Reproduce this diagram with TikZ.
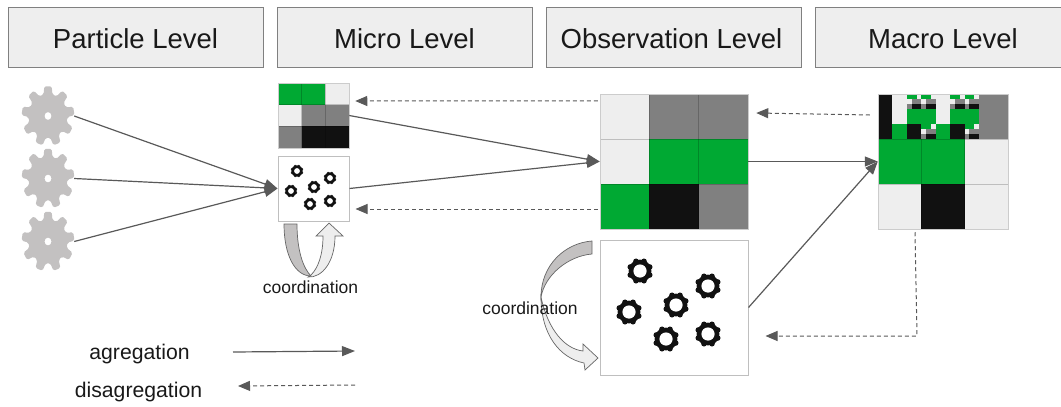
\documentclass[tikz,border=0pt]{standalone}
\usepackage{fontspec}
\setmainfont{Liberation Sans}
\usetikzlibrary{arrows.meta}

\definecolor{lvlgreen}{HTML}{00A933}
\definecolor{lvlblack}{HTML}{111111}
\definecolor{lvlgray}{HTML}{808080}
\definecolor{lvllight}{HTML}{EEEEEE}
\definecolor{lvlline}{HTML}{595959}
\definecolor{geargray}{HTML}{C3C1C1}

\tikzset{
  header/.style={draw=black!50,fill=lvllight,minimum width=255pt,minimum height=60pt,inner sep=0pt,text=black!90,text height=23pt,text depth=0pt,font=\fontsize{27.5}{32}\selectfont},
  label/.style={text=black!90,inner sep=0pt,font=\fontsize{21.2}{25}\selectfont},
  smalllabel/.style={text=black!90,inner sep=0pt,font=\fontsize{17.5}{20}\selectfont},
  gearnode/.style={circle,minimum size=52pt,inner sep=0pt},
  gridbox/.style={inner sep=0pt,draw=black!20,line width=.5pt},
  gearbox/.style={inner sep=0pt,draw=black!25,line width=1pt},
  agg/.style={draw=lvlline,line width=1.2pt,-{Triangle[length=13pt,width=10pt]}},
  disagg/.style={draw=lvlline,line width=1pt,dash pattern=on 4pt off 3pt,-{Triangle[length=12pt,width=10pt]}},
  bandgray/.style={fill=geargray,draw=black!60,line width=.7pt},
  bandlight/.style={fill=lvllight,draw=black!60,line width=.7pt},
}

% cell size, then rows of colours
\newcommand{\gridcells}[5]{
  \foreach \cellrow [count=\j from 0] in {#5}
    \foreach \cellcol [count=\i from 0] in \cellrow
      \fill[\cellcol] ({#1+\i*#3},{#2+\j*#4}) rectangle ({#1+(\i+1)*#3},{#2+(\j+1)*#4});
}
\newcommand{\gridlines}[6]{
  \foreach \i in {1,...,#5}
    \draw[black,draw opacity=.2,line width=.5pt] ({#1+\i*#3},#2) -- ({#1+\i*#3},{#2+(#6+1)*#4});
  \foreach \j in {1,...,#6}
    \draw[black,draw opacity=.2,line width=.5pt] (#1,{#2+\j*#4}) -- ({#1+(#5+1)*#3},{#2+\j*#4});
}
% x, y, teeth, outer radius, root radius, hole radius, colour
\newcommand{\gearshape}[7]{
  \begin{scope}[shift={(#1,#2)}]
    \pgfmathsetmacro{\gearstep}{360/#3}
    \fill[#7,even odd rule,rounded corners=1.6pt] (-90-.33*\gearstep:#5)
      \foreach \i in {1,...,#3}{
        -- ({-90+(\i-1)*\gearstep-.2*\gearstep}:#4)
        -- ({-90+(\i-1)*\gearstep+.2*\gearstep}:#4)
        -- ({-90+(\i-1)*\gearstep+.33*\gearstep}:#5)
        -- ({-90+\i*\gearstep-.33*\gearstep}:#5)
      } -- cycle (0,0) circle (#6);
  \end{scope}
}
% x, y, size of the ring, hole radius
\newcommand{\ringgear}[4]{
  \begin{scope}[shift={(#1,#2)},scale=#3]
    \fill[lvlblack] (0,0) circle (11.4);
    \foreach \a in {0,45,...,315}
      \fill[lvlblack] (\a+22.5:10.4) circle (2.9);
    \fill[white] (0,0) circle (#4);
  \end{scope}
}

\begin{document}
\begin{tikzpicture}[x=1pt,y=-1pt]
  \useasboundingbox (0,0) rectangle (1061,407);

  \node[header] (particlehead) at (135.5,37) {Particle Level};
  \node[header] (microhead) at (404.5,37) {Micro Level};
  \node[header] (obshead) at (673.5,37) {\hspace*{-4pt}Observation Level};
  \node[header] (macrohead) at (943,37) {Macro Level};

  \node[gearnode] (gear1) at (48,116) {};
  \node[gearnode] (gear2) at (48,178.5) {};
  \node[gearnode] (gear3) at (48,241.5) {};
  \foreach \gy in {116,178.5,241.5}
    \gearshape{48}{\gy}{9}{26.5}{19.5}{3.5}{geargray,yscale=1.13};

  \gridcells{278}{83}{23.67}{21.67}{{lvlgreen,lvlgreen,lvllight},{lvllight,lvlgray,lvlgray},{lvlgray,lvlblack,lvlblack}}
  \gridlines{278}{83}{23.67}{21.67}{2}{2}
  \node[gridbox,minimum width=71pt,minimum height=65pt] (microgrid) at (313.5,115.5) {};

  \node[gearbox,minimum width=71pt,minimum height=65pt] (microbox) at (313.5,188.5) {};
  \foreach \gx/\gy in {297/171,330/178,314/187,291/191,330/201,310/204}
    \ringgear{\gx}{\gy}{.5}{5.8};

  \gridcells{600}{94}{49.33}{45}{{lvllight,lvlgray,lvlgray},{lvllight,lvlgreen,lvlgreen},{lvlgreen,lvlblack,lvlgray}}
  \gridlines{600}{94}{49.33}{45}{2}{2}
  \node[gridbox,minimum width=148pt,minimum height=135pt] (obsgrid) at (674,161.5) {};

  \node[gearbox,minimum width=148pt,minimum height=135pt] (obsbox) at (674,307.5) {};
  \foreach \gx/\gy in {640/271,708/286,676/305,629/312,708/334,666/339}
    \ringgear{\gx}{\gy}{1}{6.6};

  \gridcells{878}{94}{14.44}{15}{
    {lvlblack,lvllight,lvllight,lvllight,lvllight,lvllight,lvllight,lvlgray,lvlgray},
    {lvlblack,lvllight,lvlgreen,lvlgreen,lvllight,lvlgreen,lvlgreen,lvlgray,lvlgray},
    {lvlblack,lvlgreen,lvlblack,lvllight,lvlgreen,lvlblack,lvllight,lvlgray,lvlgray}}
  \foreach \fx/\fy in {2/0,3/0,5/0,6/0,3/2,6/2}
    \gridcells{878+\fx*14.44}{94+\fy*15}{4.81}{5}{{lvlgreen,lvlgreen,lvllight},{lvllight,lvlgray,lvlgray},{lvlgray,lvlblack,lvlblack}}
  \gridcells{878}{139}{43.33}{45}{{lvlgreen,lvlgreen,lvllight},{lvllight,lvlblack,lvllight}}
  \draw[black,draw opacity=.2,line width=.5pt] (878,139) -- (1008,139);
  \draw[black,draw opacity=.2,line width=.5pt] (878,184) -- (1008,184);
  \draw[black,draw opacity=.2,line width=.5pt] (921.3,139) -- (921.3,229);
  \draw[black,draw opacity=.2,line width=.5pt] (964.7,139) -- (964.7,229);
  \node[gridbox,minimum width=130pt,minimum height=135pt] (macrogrid) at (943,161.5) {};

  \draw[agg] (gear1.east) -- (microbox.west);
  \draw[agg] (gear2.east) -- (microbox.west);
  \draw[agg] (gear3.east) -- (microbox.west);
  \draw[agg] (microgrid.east) -- (obsgrid.west);
  \draw[agg] (microbox.east) -- (obsgrid.west);
  \draw[agg] (obsgrid.east) -- (macrogrid.west);
  \draw[agg] (obsbox.east) -- (macrogrid.west);

  \draw[disagg] ([xshift=-2pt,yshift=-7pt]obsgrid.north west) -- ([xshift=6pt,yshift=14.5pt]microgrid.east);
  \draw[disagg] ([xshift=-2pt,yshift=-47.5pt]obsgrid.west) -- ([xshift=6pt,yshift=-20.5pt]microbox.east);
  \draw[disagg] ([xshift=-8pt,yshift=46.5pt]macrogrid.west) -- ([xshift=8pt,yshift=48.5pt]obsgrid.east);
  \coordinate (macrobend) at (917,336);
  \draw[disagg] ([xshift=-28pt,yshift=-3pt]macrogrid.south) -- (macrobend) -- ([xshift=17pt,yshift=-28.5pt]obsbox.east);

  \draw[bandlight] (308,277) .. controls (322,278) and (335,262) .. (335,236) -- (343,236) -- (329,223) -- (316,236) -- (323,236) .. controls (323,255) and (318,268) .. (311,275) -- cycle;
  \draw[bandgray] (284,224) -- (297,224) .. controls (297,250) and (303,268) .. (311,276) .. controls (295,276) and (284,255) .. (284,224) -- cycle;
  \node[smalllabel] (microcoord) at (310.5,287) {coordination};

  \draw[bandlight] (541,297) .. controls (541,335) and (560,358) .. (584,363) -- (585,370) -- (598,358) -- (583,344) -- (583,351) .. controls (565,349) and (548,330) .. (541,297) -- cycle;
  \draw[bandgray] (592,241) .. controls (565,243) and (541,265) .. (541,297) .. controls (545,275) and (568,256) .. (592,254) -- cycle;
  \node[smalllabel] (obscoord) at (530,308) {coordination};

  \node[label] (agglabel) at (139.5,354.5) {agregation};
  \node[label] (disagglabel) at (138.5,392.5) {disagregation};
  \coordinate (aggstart) at (233,352);
  \coordinate (aggend) at (355,351);
  \coordinate (disaggstart) at (355,385);
  \coordinate (disaggend) at (238,386);
  \draw[agg] (aggstart) -- (aggend);
  \draw[disagg] (disaggstart) -- (disaggend);
\end{tikzpicture}
\end{document}
